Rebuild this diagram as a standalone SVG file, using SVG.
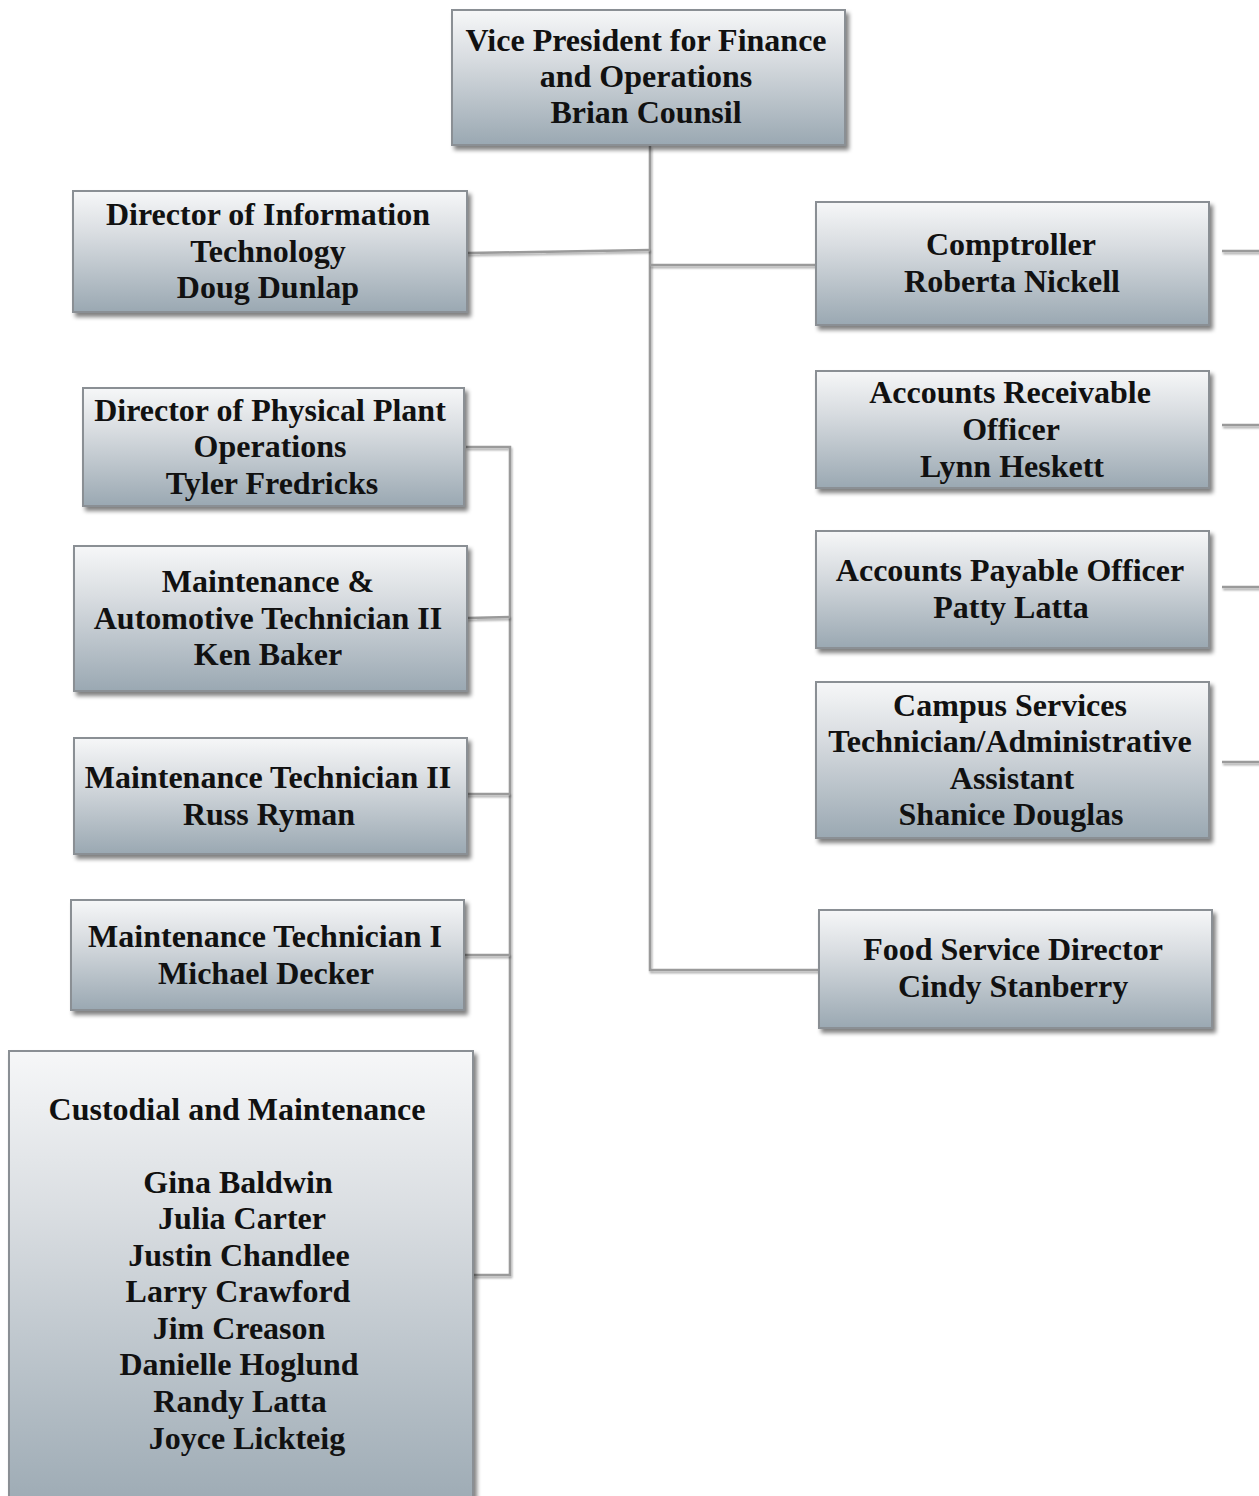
<svg xmlns="http://www.w3.org/2000/svg" width="1259" height="1496" viewBox="0 0 1259 1496">
<style>
.box{fill:url(#g);stroke:#8a8f94;stroke-width:2;filter:url(#sh)}
.t{font-family:"Liberation Serif","Times New Roman",serif;font-weight:bold;font-size:32px;fill:#111;text-anchor:middle}
.c{fill:none;stroke:#9a9a9a;stroke-width:2.5;filter:url(#lsh)}
</style>
<defs>
<linearGradient id="g" x1="0" y1="0" x2="0" y2="1">
<stop offset="0" stop-color="#f6f7f8"/>
<stop offset="0.35" stop-color="#d9dde1"/>
<stop offset="1" stop-color="#9aa8b2"/>
</linearGradient>
<filter id="sh" x="-5%" y="-5%" width="115%" height="120%">
<feGaussianBlur in="SourceAlpha" stdDeviation="2"/>
<feOffset dx="3" dy="4" result="b"/>
<feComponentTransfer in="b" result="b2"><feFuncA type="linear" slope="0.5"/></feComponentTransfer>
<feMerge><feMergeNode in="b2"/><feMergeNode in="SourceGraphic"/></feMerge>
</filter>
<filter id="lsh" filterUnits="userSpaceOnUse" x="0" y="0" width="1259" height="1496">
<feGaussianBlur in="SourceAlpha" stdDeviation="0.8"/>
<feOffset dx="1" dy="1.5" result="b"/>
<feComponentTransfer in="b" result="b2"><feFuncA type="linear" slope="0.35"/></feComponentTransfer>
<feMerge><feMergeNode in="b2"/><feMergeNode in="SourceGraphic"/></feMerge>
</filter>
</defs>
<rect width="1259" height="1496" fill="#ffffff"/>
<g id="connectors">
<path class="c" d="M650,146 V970 H819"/>
<path class="c" d="M467,253 L650,250"/>
<path class="c" d="M650,265 H816"/>
<path class="c" d="M1222,251 H1262"/>
<path class="c" d="M1222,425 H1262"/>
<path class="c" d="M1222,587 H1262"/>
<path class="c" d="M1222,762 H1262"/>
<path class="c" d="M466,447 H510 V1275 H473"/>
<path class="c" d="M467,618 L510,617"/>
<path class="c" d="M464,794 H510"/>
<path class="c" d="M464,955 H510"/>
</g>
<g id="vp">
<rect class="box" x="452" y="10" width="393" height="135"/>
<text class="t" x="646" y="51">Vice President for Finance</text>
<text class="t" x="646" y="87">and Operations</text>
<text class="t" x="646" y="123">Brian Counsil</text>
</g>
<g id="it">
<rect class="box" x="73" y="191" width="394" height="121"/>
<text class="t" x="268" y="225">Director of Information</text>
<text class="t" x="268" y="262">Technology</text>
<text class="t" x="268" y="298">Doug Dunlap</text>
</g>
<g id="plant">
<rect class="box" x="83" y="388" width="381" height="118"/>
<text class="t" x="270" y="421">Director of Physical Plant</text>
<text class="t" x="270" y="457">Operations</text>
<text class="t" x="272" y="494">Tyler Fredricks</text>
</g>
<g id="maintauto">
<rect class="box" x="74" y="546" width="393" height="145"/>
<text class="t" x="268" y="592">Maintenance &amp;</text>
<text class="t" x="268" y="629">Automotive Technician II</text>
<text class="t" x="268" y="665">Ken Baker</text>
</g>
<g id="mt2">
<rect class="box" x="74" y="738" width="393" height="116"/>
<text class="t" x="268" y="788">Maintenance Technician II</text>
<text class="t" x="269" y="825">Russ Ryman</text>
</g>
<g id="mt1">
<rect class="box" x="71" y="900" width="393" height="110"/>
<text class="t" x="265" y="947">Maintenance Technician I</text>
<text class="t" x="266" y="984">Michael Decker</text>
</g>
<g id="custodial">
<rect class="box" x="9" y="1051" width="464" height="470"/>
<text class="t" x="237" y="1120">Custodial and Maintenance</text>
<text class="t" x="238" y="1193">Gina Baldwin</text>
<text class="t" x="242" y="1229">Julia Carter</text>
<text class="t" x="239" y="1266">Justin Chandlee</text>
<text class="t" x="238" y="1302">Larry Crawford</text>
<text class="t" x="239" y="1339">Jim Creason</text>
<text class="t" x="239" y="1375">Danielle Hoglund</text>
<text class="t" x="240" y="1412">Randy Latta</text>
<text class="t" x="247" y="1449">Joyce Lickteig</text>
</g>
<g id="comptroller">
<rect class="box" x="816" y="202" width="393" height="123"/>
<text class="t" x="1011" y="255">Comptroller</text>
<text class="t" x="1012" y="292">Roberta Nickell</text>
</g>
<g id="ar">
<rect class="box" x="816" y="371" width="393" height="117"/>
<text class="t" x="1010" y="403">Accounts Receivable</text>
<text class="t" x="1011" y="440">Officer</text>
<text class="t" x="1012" y="477">Lynn Heskett</text>
</g>
<g id="ap">
<rect class="box" x="816" y="531" width="393" height="117"/>
<text class="t" x="1010" y="581">Accounts Payable Officer</text>
<text class="t" x="1011" y="618">Patty Latta</text>
</g>
<g id="campus">
<rect class="box" x="816" y="682" width="393" height="156"/>
<text class="t" x="1010" y="716">Campus Services</text>
<text class="t" x="1010" y="752">Technician/Administrative</text>
<text class="t" x="1012" y="789">Assistant</text>
<text class="t" x="1011" y="825">Shanice Douglas</text>
</g>
<g id="food">
<rect class="box" x="819" y="910" width="393" height="118"/>
<text class="t" x="1013" y="960">Food Service Director</text>
<text class="t" x="1013" y="997">Cindy Stanberry</text>
</g>
</svg>
